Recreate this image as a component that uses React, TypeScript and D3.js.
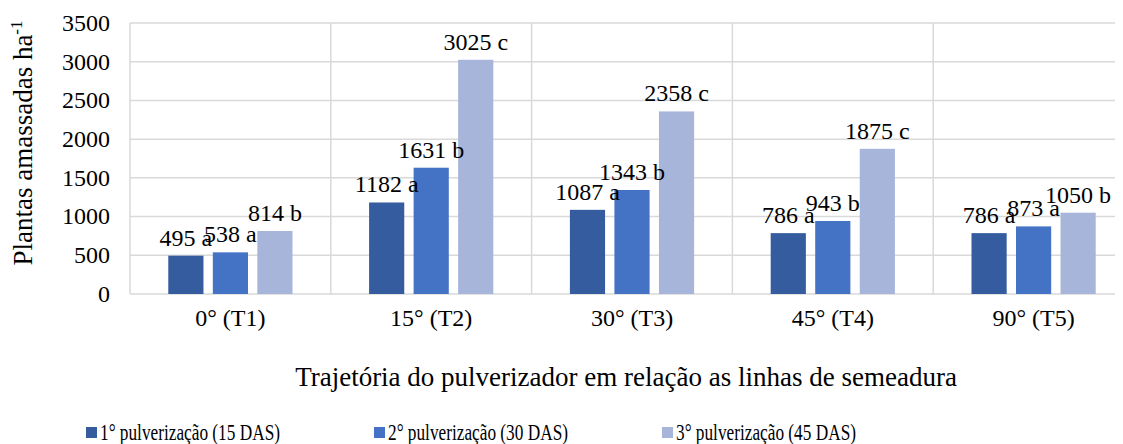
import React from 'react';
import * as d3 from 'd3';

// chart data
const categories = ['0° (T1)', '15° (T2)', '30° (T3)', '45° (T4)', '90° (T5)'];
const seriesNames = ['1° pulverização (15 DAS)', '2° pulverização (30 DAS)', '3° pulverização (45 DAS)'];
const pulv1 = [495, 1182, 1087, 786, 786];
const pulv2 = [538, 1631, 1343, 943, 873];
const pulv3 = [814, 3025, 2358, 1875, 1050];
const letters1 = ['a', 'a', 'a', 'a', 'a'];
const letters2 = ['a', 'b', 'b', 'b', 'a'];
const letters3 = ['b', 'c', 'c', 'c', 'b'];
const yTicks = [0, 500, 1000, 1500, 2000, 2500, 3000, 3500];
const colors = ['#355C9F', '#4472C4', '#A7B5DB'];

const width = 1123;
const height = 444;
const font = 'Liberation Serif';
const fs = 24;

const App = () => {
  const values = [pulv1, pulv2, pulv3];
  const letters = [letters1, letters2, letters3];

  // scales
  const x0 = d3.scaleBand().domain(categories).range([130, 1134]).padding(0);
  const x1 = d3.scaleBand()
    .domain(seriesNames)
    .range([0, x0.bandwidth()])
    .paddingInner(0.21)
    .paddingOuter(0.86);
  const y = d3.scaleLinear().domain([0, 3500]).range([294, 23]);
  // legend positions
  const lg = d3.scalePoint().domain(seriesNames).range([86, 662]);

  const boundaries = categories.map(c => x0(c)).concat([x0.range()[1]]);

  return (
    <svg width={width} height={height} style={{ display: 'block', margin: '-8px 0 0 -8px' }}>
      <rect width={width} height={height} fill="#fff" />

      {/* horizontal gridlines */}
      {yTicks.map(t => (
        <line key={'h' + t} x1={130} x2={1134} y1={y(t)} y2={y(t)} stroke="#D9D9D9" strokeWidth={1.5} />
      ))}
      {/* vertical category separators */}
      {boundaries.map((b, i) => (
        <line key={'v' + i} x1={b} x2={b} y1={y(3500)} y2={y(0)} stroke="#D9D9D9" strokeWidth={1.5} />
      ))}

      {/* y tick labels */}
      {yTicks.map(t => (
        <text key={'t' + t} x={110} y={y(t)} dy="0.33em" textAnchor="end" fontFamily={font} fontSize={fs}>
          {t}
        </text>
      ))}

      {/* bars */}
      {categories.map((c, ci) => (
        <g key={c} transform={`translate(${x0(c)},0)`}>
          {seriesNames.map((s, si) => (
            <rect
              key={s}
              x={x1(s)}
              y={y(values[si][ci])}
              width={x1.bandwidth()}
              height={y(0) - y(values[si][ci])}
              fill={colors[si]}
            />
          ))}
        </g>
      ))}

      {/* data labels */}
      {categories.map((c, ci) => (
        <g key={'l' + c} transform={`translate(${x0(c)},0)`}>
          {seriesNames.map((s, si) => (
            <text
              key={s}
              x={(x1(s) as number) + x1.bandwidth() / 2}
              y={y(values[si][ci]) - 10}
              textAnchor="middle"
              fontFamily={font}
              fontSize={fs}
            >
              {`${values[si][ci]} ${letters[si][ci]}`}
            </text>
          ))}
        </g>
      ))}

      {/* category labels */}
      {categories.map(c => (
        <text key={'c' + c} x={(x0(c) as number) + x0.bandwidth() / 2} y={326} textAnchor="middle" fontFamily={font} fontSize={fs}>
          {c}
        </text>
      ))}

      {/* axis titles */}
      <text x={626} y={386} textAnchor="middle" fontFamily={font} fontSize={27}>
        Trajetória do pulverizador em relação as linhas de semeadura
      </text>
      <text transform="translate(32,143) rotate(-90)" textAnchor="middle" fontFamily={font} fontSize={27}>
        Plantas amassadas ha<tspan dy={-10} fontSize={17}>-1</tspan>
      </text>

      {/* legend */}
      {seriesNames.map((s, i) => (
        <g key={'lg' + s} transform={`translate(${lg(s)},0)`}>
          <rect x={0} y={427} width={11} height={11} fill={colors[i]} />
          <text x={14} y={440} fontFamily={font} fontSize={24} textLength={180} lengthAdjust="spacingAndGlyphs">
            {s}
          </text>
        </g>
      ))}
    </svg>
  );
};

export default App;
